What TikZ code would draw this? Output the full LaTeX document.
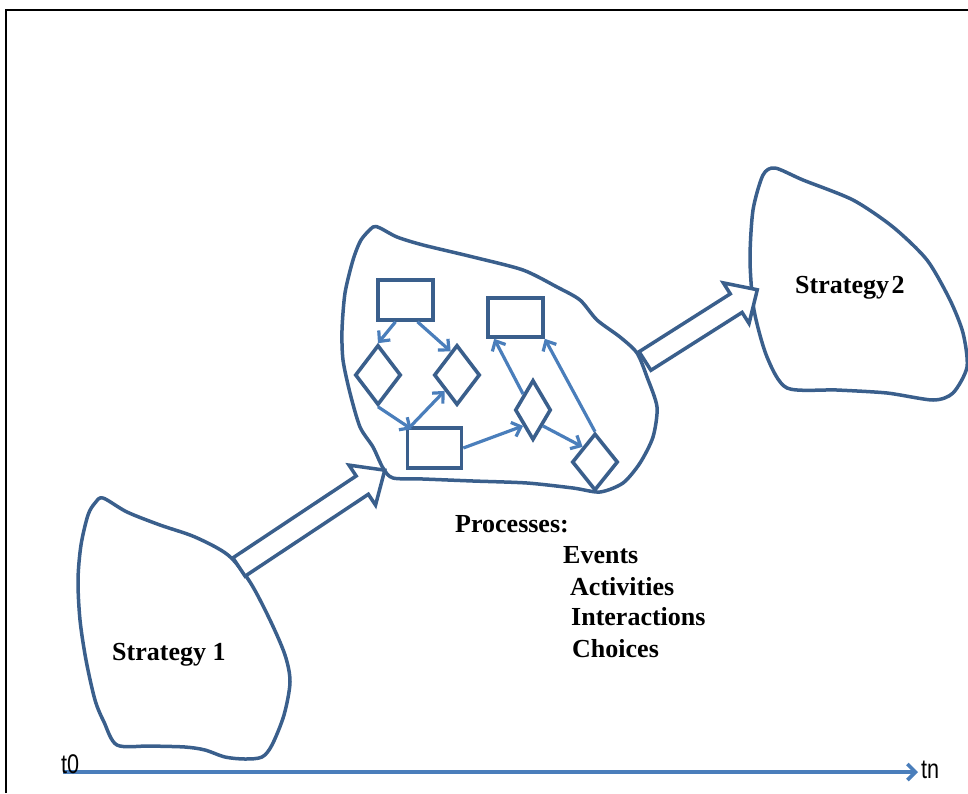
\documentclass[tikz,border=0pt]{standalone}
\usepackage{fontspec}
\setmainfont{Liberation Serif}
\newfontfamily\narrowfont[FakeStretch=0.8]{Liberation Sans}
\usetikzlibrary{arrows.meta,shapes.geometric}
\definecolor{blobblue}{HTML}{3A5F8C}
\definecolor{arrowblue}{HTML}{4A7EBB}
\tikzset{
  blob/.style={draw=blobblue, line width=3.5pt, line join=round},
  procbox/.style={draw=blobblue, line width=3.6pt, rectangle, inner sep=0pt},
  procdia/.style={draw=blobblue, line width=3.6pt, diamond, inner sep=0pt},
  flow/.style={draw=arrowblue, line width=3.2pt, -{Straight Barb[length=8pt,width=15pt]}},
  hollow/.style={draw=blobblue, line width=3.5pt, fill=white, line join=miter},
  label/.style={font=\fontsize{26}{30}\selectfont\bfseries, inner sep=0pt, text=black},
  tlabel/.style={font=\fontsize{27}{30}\selectfont\narrowfont, inner sep=0pt, text=black}
}
\begin{document}
\begin{tikzpicture}[x=1pt,y=-1pt]
\useasboundingbox (0,0) rectangle (968,793);
% frame
\draw[black, line width=2.2pt] (6,793) -- (6,10) -- (968,10);

% Strategy 1 blob
\draw[blob] plot[smooth cycle, tension=0.5] coordinates {
 (103,498) (127,512) (160,525) (195,537) (228,555) (250,582) (270,620) (285,655) (290,682)
 (284,715) (272,745) (262,757) (245,759) (225,757) (205,750) (185,747) (150,746) (117,745)
 (104,722) (95,700) (86,660) (80,620) (78,580) (81,545) (88,515) (95,503)};

% middle blob
\draw[blob] plot[smooth cycle, tension=0.45] coordinates {
 (373,227) (380,228) (397,237) (423,245) (473,257) (523,270) (557,287) (580,300) (597,320)
 (620,337) (637,353) (647,377) (657,407) (653,437) (640,463) (623,483) (600,492) (573,488)
 (527,483) (473,481) (423,479) (393,478) (383,468) (373,447) (360,427) (350,393) (343,360)
 (342,330) (345,293) (353,260) (361,240)};

% Strategy 2 blob
\draw[blob] plot[smooth cycle, tension=0.45] coordinates {
 (775,168) (803,180) (853,200) (893,227) (927,260) (950,300) (963,333) (967,367) (953,393)
 (933,400) (887,393) (837,390) (787,388) (767,357) (754,310) (750,260) (753,210) (763,175)};

% hollow arrows
\begin{scope}[shift={(239,567)}, rotate=33.6]
  \draw[hollow] (0,-11) -- (148,-11) -- (148,-24) -- (175,0) -- (148,24) -- (148,11) -- (0,11) -- cycle;
\end{scope}
\begin{scope}[shift={(645,361)}, rotate=32.4]
  \draw[hollow] (0,-11) -- (108,-11) -- (108,-24) -- (133,0) -- (108,24) -- (108,11) -- (0,11) -- cycle;
\end{scope}

% process nodes
\node[procbox, minimum width=55pt, minimum height=40pt] (A) at (405.5,300) {};
\node[procbox, minimum width=55pt, minimum height=39pt] (B) at (515.5,317.5) {};
\node[procbox, minimum width=54pt, minimum height=40pt] (C) at (434.5,448) {};
\node[procdia, minimum width=46pt, minimum height=60pt] (D1) at (378,375) {};
\node[procdia, minimum width=46pt, minimum height=60pt] (D2) at (457,375) {};
\node[procdia, minimum width=36pt, minimum height=60pt] (D3) at (533,410) {};
\node[procdia, minimum width=46pt, minimum height=57pt] (D4) at (595,462) {};

% flow arrows
\draw[flow] ([xshift=-10pt]A.south) -- (D1.north);
\draw[flow] ([xshift=12pt]A.south) -- (D2.105);
\draw[flow] (D1.south) -- ([xshift=6pt,yshift=-3pt]C.north west);
\draw[flow] ([xshift=5pt]C.north west) -- (D2.south west);
\draw[flow] (C.east) -- (D3.south west);
\draw[flow] (D3.north west) -- ([xshift=8pt]B.south west);
\draw[flow] (D3.south east) -- (D4.north west);
\draw[flow] (D4.north) -- (B.south east);

% texts
\node[label, anchor=base west] (s1) at (112,660) {Strategy 1};
\node[label, anchor=base west] (s2) at (795,293) {Strategy\hspace{0.1em}2};
\node[label, anchor=base west] (proc) at (455,532) {Processes:};
\node[label, anchor=base west] (ev) at (563,563) {Events};
\node[label, anchor=base west] (ac) at (570,595) {Activities};
\node[label, anchor=base west] (in) at (571,625) {Interactions};
\node[label, anchor=base west] (ch) at (572,657) {Choices};

% time axis
\coordinate (tstart) at (63,772);
\coordinate (tend) at (918,772);
\draw[draw=arrowblue, line width=3.6pt, -{Straight Barb[length=8pt,width=16pt]}] (tstart) -- (tend);
\node[tlabel, anchor=base west] (t0) at (61,773) {t0};
\node[tlabel, anchor=base west] (tn) at (921,778) {tn};
\end{tikzpicture}
\end{document}
